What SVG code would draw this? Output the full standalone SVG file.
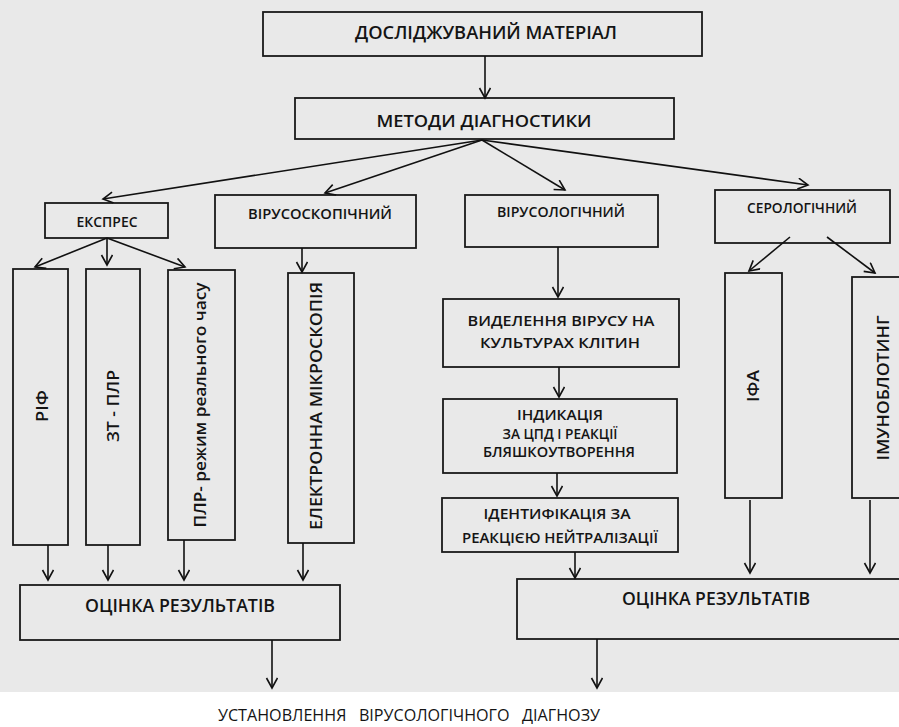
<svg xmlns="http://www.w3.org/2000/svg" width="899" height="727" viewBox="0 0 899 727">
<defs>
<marker id="arr" markerWidth="14" markerHeight="14" refX="11" refY="6" orient="auto" markerUnits="userSpaceOnUse">
<path d="M1,0.5 L11,6 L1,11.5" fill="none" stroke="#111" stroke-width="1.6"/>
</marker>
</defs>
<style>
.bx{fill:none;stroke:#1a1a1a;stroke-width:1.8}
.t{font-family:"Open Sans","Noto Sans","DejaVu Sans",sans-serif;fill:#141414;text-anchor:middle;font-weight:600}
.c line{stroke:#111;stroke-width:1.6;marker-end:url(#arr)}
</style>
<rect x="0" y="0" width="899" height="692" fill="#e9e9e9"/>
<rect x="0" y="692" width="899" height="35" fill="#ffffff"/>

<g id="n-material"><rect class="bx" x="263" y="12" width="439" height="44"/><text class="t" x="486" y="39" font-size="18" textLength="262" lengthAdjust="spacingAndGlyphs">ДОСЛІДЖУВАНИЙ МАТЕРІАЛ</text></g>
<g id="n-metody"><rect class="bx" x="295" y="98" width="379" height="41"/><text class="t" x="484" y="127" font-size="16" textLength="215" lengthAdjust="spacingAndGlyphs">МЕТОДИ ДІАГНОСТИКИ</text></g>
<g id="n-ekspres"><rect class="bx" x="45" y="203" width="123" height="35"/><text class="t" x="107" y="227" font-size="15" textLength="61" lengthAdjust="spacingAndGlyphs">ЕКСПРЕС</text></g>
<g id="n-virusoskop"><rect class="bx" x="215" y="195" width="201" height="53"/><text class="t" x="320" y="219" font-size="14" textLength="144" lengthAdjust="spacingAndGlyphs">ВІРУСОСКОПІЧНИЙ</text></g>
<g id="n-virusolog"><rect class="bx" x="465" y="195" width="193" height="52"/><text class="t" x="561" y="217" font-size="14" textLength="128" lengthAdjust="spacingAndGlyphs">ВІРУСОЛОГІЧНИЙ</text></g>
<g id="n-serolog"><rect class="bx" x="715" y="190" width="175" height="53"/><text class="t" x="802" y="213" font-size="14" textLength="110" lengthAdjust="spacingAndGlyphs">СЕРОЛОГІЧНИЙ</text></g>

<g id="n-rif"><rect class="bx" x="13" y="269" width="55" height="276"/><text class="t" x="48" y="406" font-size="17" transform="rotate(-90 48 406)" textLength="32" lengthAdjust="spacingAndGlyphs">РІФ</text></g>
<g id="n-zt-plr"><rect class="bx" x="86" y="269" width="54" height="276"/><text class="t" x="119" y="406" font-size="17" transform="rotate(-90 119 406)" textLength="72" lengthAdjust="spacingAndGlyphs">ЗТ - ПЛР</text></g>
<g id="n-plr-rt"><rect class="bx" x="168" y="270" width="67" height="270"/><text class="t" x="206" y="405" font-size="17" transform="rotate(-90 206 405)" textLength="245" lengthAdjust="spacingAndGlyphs">ПЛР- режим реального часу</text></g>
<g id="n-elmikro"><rect class="bx" x="288" y="273" width="66" height="270"/><text class="t" x="322" y="406" font-size="17" transform="rotate(-90 322 406)" textLength="248" lengthAdjust="spacingAndGlyphs">ЕЛЕКТРОННА МІКРОСКОПІЯ</text></g>

<g id="n-vydilennia"><rect class="bx" x="443" y="299" width="236" height="68"/><text class="t" x="561" y="326" font-size="15" textLength="187" lengthAdjust="spacingAndGlyphs">ВИДЕЛЕННЯ ВІРУСУ НА</text><text class="t" x="560" y="348" font-size="15" textLength="160" lengthAdjust="spacingAndGlyphs">КУЛЬТУРАХ КЛІТИН</text></g>
<g id="n-indykatsia"><rect class="bx" x="443" y="399" width="234" height="74"/><text class="t" x="560" y="420" font-size="14" textLength="86" lengthAdjust="spacingAndGlyphs">ІНДИКАЦІЯ</text><text class="t" x="560" y="439" font-size="14" textLength="115" lengthAdjust="spacingAndGlyphs">ЗА ЦПД І РЕАКЦІЇ</text><text class="t" x="559" y="457" font-size="14" textLength="152" lengthAdjust="spacingAndGlyphs">БЛЯШКОУТВОРЕННЯ</text></g>
<g id="n-identyf"><rect class="bx" x="442" y="498" width="236" height="54"/><text class="t" x="557" y="519" font-size="14" textLength="147" lengthAdjust="spacingAndGlyphs">ІДЕНТИФІКАЦІЯ ЗА</text><text class="t" x="560" y="543" font-size="14" textLength="196" lengthAdjust="spacingAndGlyphs">РЕАКЦІЄЮ НЕЙТРАЛІЗАЦІЇ</text></g>

<g id="n-ifa"><rect class="bx" x="725" y="273" width="57" height="225"/><text class="t" x="759" y="386" font-size="17" transform="rotate(-90 759 386)" textLength="32" lengthAdjust="spacingAndGlyphs">ІФА</text></g>
<g id="n-imunoblot"><rect class="bx" x="852" y="277" width="60" height="221"/><text class="t" x="889" y="388" font-size="17" transform="rotate(-90 889 388)" textLength="145" lengthAdjust="spacingAndGlyphs">ІМУНОБЛОТИНГ</text></g>

<g id="n-otsinka1"><rect class="bx" x="20" y="585" width="320" height="55"/><text class="t" x="180" y="612" font-size="18" textLength="190" lengthAdjust="spacingAndGlyphs">ОЦІНКА РЕЗУЛЬТАТІВ</text></g>
<g id="n-otsinka2"><rect class="bx" x="517" y="579" width="395" height="60"/><text class="t" x="716" y="605" font-size="18" textLength="188" lengthAdjust="spacingAndGlyphs">ОЦІНКА РЕЗУЛЬТАТІВ</text></g>

<g id="n-diagnoz"><text x="409" y="721" font-family="'Liberation Sans Narrow','Open Sans','Noto Sans',sans-serif" font-size="16" fill="#141414" text-anchor="middle" textLength="382" lengthAdjust="spacingAndGlyphs" xml:space="preserve">УСТАНОВЛЕННЯ   ВІРУСОЛОГІЧНОГО   ДІАГНОЗУ</text></g>

<g id="connectors" class="c">
<line x1="485" y1="56" x2="485" y2="98"/>
<line x1="482" y1="140" x2="103" y2="199"/>
<line x1="482" y1="140" x2="325" y2="193"/>
<line x1="482" y1="140" x2="565" y2="190"/>
<line x1="482" y1="140" x2="808" y2="185"/>
<line x1="107" y1="238" x2="35" y2="267"/>
<line x1="107" y1="238" x2="107" y2="265"/>
<line x1="107" y1="238" x2="185" y2="267"/>
<line x1="302" y1="248" x2="302" y2="272"/>
<line x1="558" y1="247" x2="558" y2="297"/>
<line x1="559" y1="367" x2="559" y2="397"/>
<line x1="557" y1="473" x2="557" y2="496"/>
<line x1="790" y1="237" x2="749" y2="271"/>
<line x1="827" y1="237" x2="875" y2="273"/>
<line x1="48" y1="545" x2="48" y2="580"/>
<line x1="108" y1="545" x2="108" y2="580"/>
<line x1="184" y1="540" x2="184" y2="580"/>
<line x1="303" y1="543" x2="303" y2="580"/>
<line x1="272" y1="640" x2="272" y2="688"/>
<line x1="750" y1="500" x2="750" y2="573"/>
<line x1="870" y1="500" x2="870" y2="573"/>
<line x1="575" y1="552" x2="575" y2="578"/>
<line x1="597" y1="639" x2="597" y2="688"/>
</g>
</svg>
